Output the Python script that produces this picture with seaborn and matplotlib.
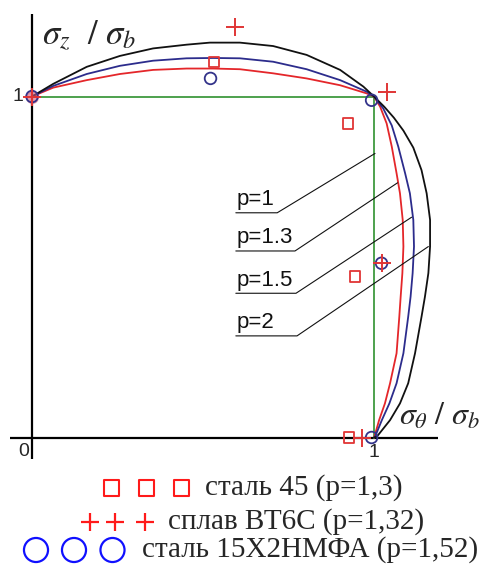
import matplotlib
matplotlib.use("Agg")
import matplotlib.pyplot as plt
import pandas as pd
import seaborn as sns

# Limit curves: sigma_theta/sigma_b (x) against sigma_z/sigma_b (y)
p2_x = [0.0, 0.062, 0.160, 0.257, 0.354, 0.452, 0.520, 0.608, 0.705, 0.803, 0.901, 0.969, 1.0,
        1.030, 1.058, 1.086, 1.115, 1.139, 1.154, 1.164, 1.164, 1.159, 1.149, 1.139, 1.120, 1.100,
        1.076, 1.047, 1.008, 1.0]
p2_y = [1.0, 1.037, 1.087, 1.119, 1.141, 1.152, 1.158, 1.158, 1.148, 1.122, 1.078, 1.029, 1.0,
        0.970, 0.938, 0.900, 0.850, 0.784, 0.716, 0.638, 0.560, 0.482, 0.413, 0.354, 0.247, 0.159,
        0.100, 0.051, 0.002, 0.0]

p15_x = [0.0, 0.062, 0.160, 0.257, 0.354, 0.452, 0.530, 0.608, 0.705, 0.803, 0.901, 0.979, 1.0,
         1.027, 1.052, 1.071, 1.091, 1.105, 1.115, 1.117, 1.113, 1.107, 1.100, 1.086, 1.066,
         1.045, 1.023, 1.003, 1.0]
p15_y = [1.0, 1.031, 1.066, 1.090, 1.105, 1.112, 1.113, 1.112, 1.102, 1.080, 1.048, 1.014, 1.0,
         0.965, 0.915, 0.853, 0.775, 0.716, 0.638, 0.560, 0.482, 0.413, 0.354, 0.247, 0.159,
         0.100, 0.051, 0.002, 0.0]

p13_x = [0.0, 0.062, 0.160, 0.257, 0.354, 0.452, 0.530, 0.608, 0.705, 0.803, 0.901, 0.979, 1.0,
         1.018, 1.037, 1.052, 1.066, 1.076, 1.084, 1.086, 1.083, 1.078, 1.074, 1.066, 1.047,
         1.032, 1.015, 1.001, 1.0]
p13_y = [1.0, 1.026, 1.048, 1.066, 1.078, 1.082, 1.082, 1.080, 1.068, 1.053, 1.033, 1.009, 1.0,
         0.970, 0.921, 0.853, 0.775, 0.716, 0.638, 0.560, 0.482, 0.413, 0.354, 0.247, 0.159,
         0.100, 0.051, 0.002, 0.0]

p1_x = [0.0, 1.0, 1.0]
p1_y = [1.0, 1.0, 0.0]

# Experimental points
steel45_x = [0.532, 0.925, 0.944, 0.927]
steel45_y = [1.102, 0.921, 0.472, 0.0]
vt6s_x = [0.0, 0.594, 1.037, 1.022, 0.964]
vt6s_y = [1.0, 1.205, 1.014, 0.511, 0.0]
steel15_x = [0.0, 0.522, 0.993, 1.022, 0.993]
steel15_y = [1.0, 1.053, 0.989, 0.511, 0.0]

curve_labels = ["p=1", "p=1.3", "p=1.5", "p=2"]
legend_texts = ["сталь 45 (p=1,3)", "сплав ВТ6С (p=1,32)", "сталь 15Х2НМФА (p=1,52)"]

sns.set_style("white")
plt.rcParams["font.family"] = ["Liberation Sans", "DejaVu Sans"]
plt.rcParams["mathtext.fontset"] = "stix"

W, H = 493, 566
fig = plt.figure(figsize=(W / 100, H / 100), dpi=100, facecolor="white")

plot_h = 467
ax = fig.add_axes([0, (H - plot_h) / H, 1, plot_h / H])
ax.set_facecolor("#fbfaf6")
ax.set_xlim(-0.0936, 1.348)
ax.set_ylim(-0.0865, 1.283)
ax.axis("off")

# coordinate axes
ax.plot([-0.064, 1.187], [0, 0], color="black", lw=1.6, solid_capstyle="butt")
ax.plot([0, 0], [-0.063, 1.242], color="black", lw=1.6, solid_capstyle="butt")

curves = [
    (p1_x, p1_y, "#3f9a3f"),
    (p13_x, p13_y, "#e4262a"),
    (p15_x, p15_y, "#2c2c8c"),
    (p2_x, p2_y, "#111111"),
]
for cx, cy, col in curves:
    df = pd.DataFrame({"x": cx, "y": cy})
    sns.lineplot(data=df, x="x", y="y", sort=False, estimator=None, color=col,
                 lw=1.3, ax=ax, legend=False)

# experimental markers
sns.scatterplot(x=steel45_x, y=steel45_y, marker="s", s=55, facecolor="none",
                edgecolor="#e03535", linewidth=1.3, ax=ax, zorder=5)
ax.scatter(steel15_x, steel15_y, marker="o", s=70, facecolors="none",
           edgecolors="#33338a", linewidths=1.3, zorder=5)
ax.scatter([steel15_x[0]], [steel15_y[0]], marker="o", s=70, color="#d06080",
           alpha=0.6, zorder=4)
sns.scatterplot(x=vt6s_x, y=vt6s_y, marker="+", s=160, color="#e03535",
                linewidth=1.4, ax=ax, zorder=6)

# curve labels with underline and leader lines
label_base = [0.682, 0.570, 0.445, 0.321]
line_y = [0.659, 0.547, 0.423, 0.298]
line_end = [0.717, 0.769, 0.772, 0.775]
leader_to = [(1.003, 0.833), (1.069, 0.747), (1.110, 0.646), (1.159, 0.560)]
for lab, yb, yl, xe, (lx, ly) in zip(curve_labels, label_base, line_y, line_end, leader_to):
    ax.text(0.599, yb, lab, fontsize=16, va="baseline", ha="left", color="#111111")
    ax.plot([0.596, xe, lx], [yl, yl, ly], color="#111111", lw=0.8)

# axis titles and tick labels
ax.text(0.029, 1.177, r"$\sigma_z\ \ /\ \sigma_b$", fontsize=25, va="center", ha="left")
ax.text(1.074, 0.060, r"$\sigma_\theta\ /\ \sigma_b$", fontsize=23, va="center", ha="left")
ax.text(-0.042, 1.0, "1", fontsize=14, va="center", ha="center")
ax.text(-0.025, -0.04, "0", fontsize=14, va="center", ha="center")
ax.text(1.0, -0.045, "1", fontsize=14, va="center", ha="center")

# legend below the chart, in pixel coordinates
lg = fig.add_axes([0, 0, 1, (H - plot_h) / H])
lg.set_xlim(0, W)
lg.set_ylim(H, plot_h)
lg.axis("off")
serif = ["Liberation Serif", "DejaVu Serif"]

rows = [
    (488, [111.5, 146.5, 181.5], "s", 205),
    (522, [90, 115, 144.5], "+", 168),
    (550, [36, 74, 112.5], "o", 142),
]
for (y, xs, mk, tx), text in zip(rows, legend_texts):
    if mk == "s":
        lg.scatter(xs, [y] * 3, marker="s", s=120, facecolors="none",
                   edgecolors="#ff1a1a", linewidths=1.5)
    elif mk == "+":
        lg.scatter(xs, [y] * 3, marker="+", s=180, color="#ff1a1a", linewidths=1.6)
    else:
        lg.scatter(xs, [y] * 3, marker="o", s=300, facecolors="none",
                   edgecolors="#1010ff", linewidths=1.6)
    lg.text(tx, y, text, family=serif, fontsize=21, va="center", ha="left")

fig.savefig("out.png", dpi=100, facecolor="white")
